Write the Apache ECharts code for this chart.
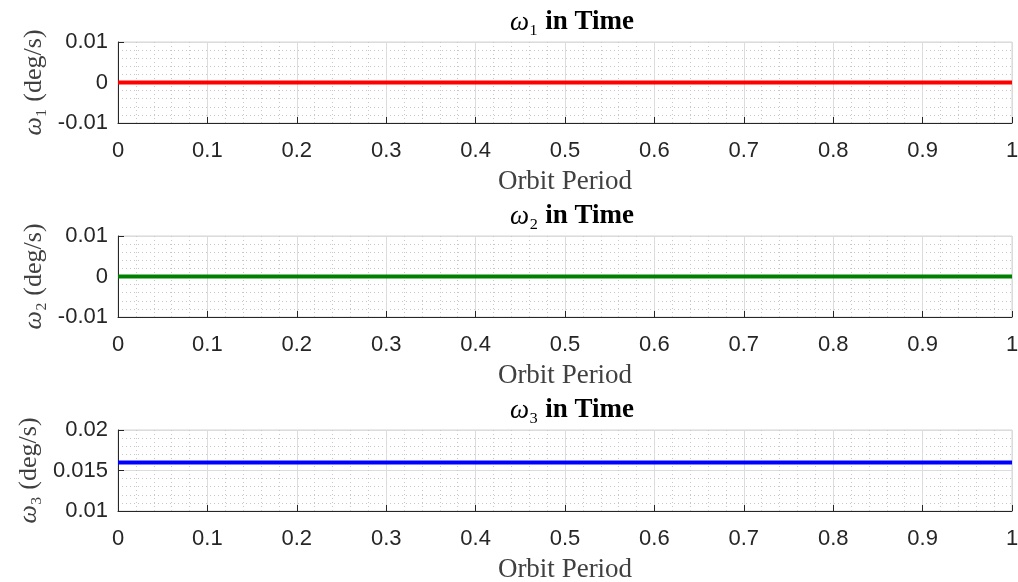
<!DOCTYPE html>
<html>
<head>
<meta charset="utf-8">
<script src="https://cdn.jsdelivr.net/npm/echarts@6/dist/echarts.min.js"></script>
<style>
  html, body { margin: 0; padding: 0; background: #fff; }
  #chart { width: 1018px; height: 582px; }
</style>
</head>
<body>
<div id="chart"></div>
<script>
// Angular rates over one orbit period
const orbitPeriod = [0, 0.25, 0.5, 0.75, 1];
const omega1 = [0, 0, 0, 0, 0];
const omega2 = [0, 0, 0, 0, 0];
const omega3 = [0.016, 0.016, 0.016, 0.016, 0.016];

const subscripts = ['₁', '₂', '₃'];
const titleTail = ' in Time';
const yUnit = ' (deg/s)';
const yRanges = [[-0.01, 0.01, 0.01], [-0.01, 0.01, 0.01], [0.01, 0.02, 0.005]];
const seriesData = [omega1, omega2, omega3];
const seriesColors = ['#ff0000', '#008000', '#0000ff'];
const xLabel = 'Orbit Period';

const gridTops = [42, 236, 430];
const plotHeight = 81;

const serif = '"Liberation Serif", "DejaVu Serif", serif';
const sans = '"Liberation Sans", Arial, sans-serif';

const grids = [], xAxes = [], yAxes = [], series = [], titles = [];

gridTops.forEach((top, i) => {
  grids.push({
    left: 118, right: 6, top: top, height: plotHeight,
    outerBoundsMode: 'none', containLabel: false,
    show: true, borderColor: '#d4d4d4', borderWidth: 1, backgroundColor: 'transparent'
  });
  titles.push({
    text: '{w|ω}{s|' + subscripts[i] + '}{b|' + titleTail + '}',
    left: 567, top: top - 38, textAlign: 'center',
    textStyle: {
      fontWeight: 'normal',
      rich: {
        w: { fontFamily: serif, fontStyle: 'italic', fontWeight: 'normal', fontSize: 27, color: '#000' },
        s: { fontFamily: serif, fontWeight: 'normal', fontSize: 27, color: '#000' },
        b: { fontFamily: serif, fontWeight: 'bold', fontSize: 27, color: '#000' }
      }
    }
  });
  xAxes.push({
    type: 'value', gridIndex: i, min: 0, max: 1, interval: 0.1,
    name: xLabel, nameLocation: 'middle', nameGap: 45,
    nameTextStyle: { fontFamily: serif, fontSize: 27, color: '#404040' },
    axisLine: { show: true, onZero: false, lineStyle: { color: '#262626', width: 1 } },
    axisTick: { show: true, inside: true, length: 6, lineStyle: { color: '#262626' } },
    axisLabel: { fontFamily: sans, fontSize: 22, color: '#262626', margin: 17 },
    splitLine: { show: true, lineStyle: { color: '#dcdcdc', width: 1 } },
    minorTick: { show: false, splitNumber: 5 },
    minorSplitLine: { show: true, lineStyle: { color: '#c8c8c8', width: 1, type: [1, 3] } }
  });
  const r = yRanges[i];
  yAxes.push({
    type: 'value', gridIndex: i, min: r[0], max: r[1], interval: r[2],
    name: '{w|ω}{s|' + subscripts[i] + '}{u|' + yUnit + '}',
    nameLocation: 'middle', nameGap: 65, nameRotate: 90,
    nameTextStyle: {
      rich: {
        w: { fontFamily: serif, fontStyle: 'italic', fontSize: 26, color: '#404040' },
        s: { fontFamily: serif, fontSize: 26, color: '#404040' },
        u: { fontFamily: serif, fontSize: 26, color: '#404040' }
      }
    },
    axisLine: { show: true, onZero: false, lineStyle: { color: '#262626', width: 1 } },
    axisTick: { show: true, inside: true, length: 6, lineStyle: { color: '#262626' } },
    axisLabel: { fontFamily: sans, fontSize: 22, color: '#262626', margin: 10 },
    splitLine: { show: true, lineStyle: { color: '#dcdcdc', width: 1 } },
    minorTick: { show: false, splitNumber: 5 },
    minorSplitLine: { show: true, lineStyle: { color: '#c8c8c8', width: 1, type: [1, 3] } }
  });
  series.push({
    type: 'line', xAxisIndex: i, yAxisIndex: i,
    data: orbitPeriod.map((t, k) => [t, seriesData[i][k]]),
    showSymbol: false, symbol: 'none', animation: false,
    lineStyle: { color: seriesColors[i], width: 4 }
  });
});

const chart = echarts.init(document.getElementById('chart'), null, { renderer: 'canvas' });
chart.setOption({
  animation: false,
  backgroundColor: '#ffffff',
  title: titles,
  grid: grids,
  xAxis: xAxes,
  yAxis: yAxes,
  series: series
});
</script>
</body>
</html>
